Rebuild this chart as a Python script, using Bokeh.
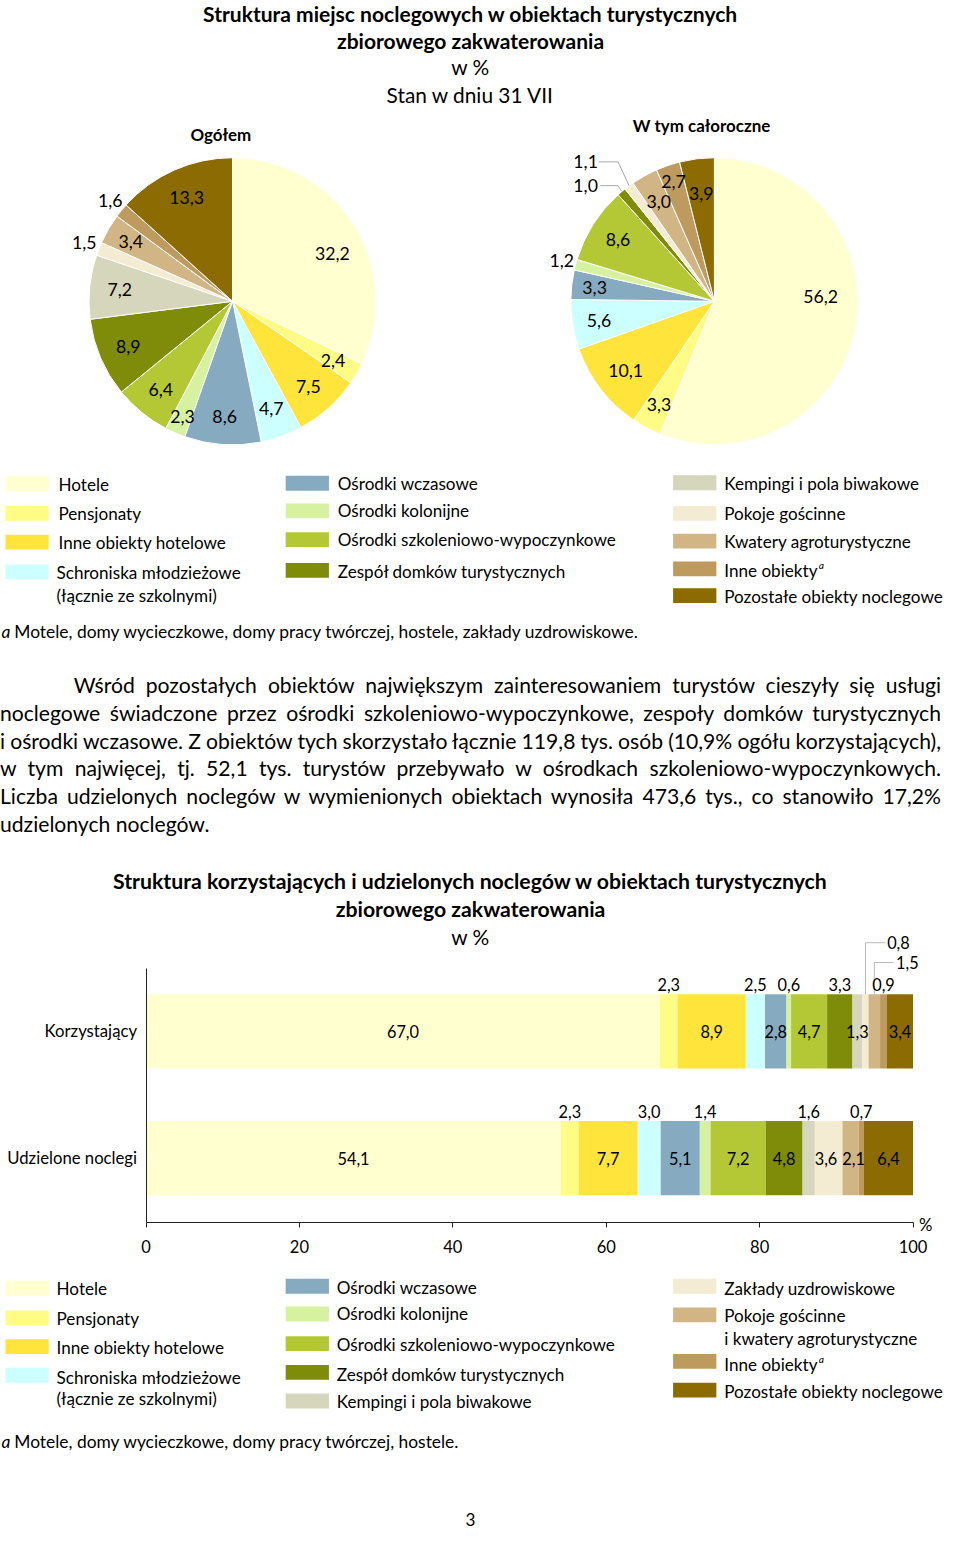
import numpy as np
from bokeh.plotting import figure
from bokeh.models import Range1d, ColumnDataSource, LinearAxis, FixedTicker, Div
from bokeh.layouts import column, row
from bokeh.embed import file_html
from bokeh.resources import INLINE
from bokeh.core.properties import value

# ---------------- data ----------------
pie_categories = ["Hotele", "Pensjonaty", "Inne obiekty hotelowe",
                  "Schroniska młodzieżowe (łącznie ze szkolnymi)", "Ośrodki wczasowe",
                  "Ośrodki kolonijne", "Ośrodki szkoleniowo-wypoczynkowe",
                  "Zespół domków turystycznych", "Kempingi i pola biwakowe",
                  "Pokoje gościnne", "Kwatery agroturystyczne", "Inne obiekty",
                  "Pozostałe obiekty noclegowe"]
pie_colors = ["#FFFFD0", "#FFFC86", "#FFE43C", "#CCFFFF", "#86ABC1", "#D6F2A0",
              "#B3C834", "#7F8C0A", "#D6D6BC", "#F3ECD2", "#D1B585", "#BF9A5E", "#8C6B02"]
pie_total = [32.2, 2.4, 7.5, 4.7, 8.6, 2.3, 6.4, 8.9, 7.2, 1.5, 3.4, 1.6, 13.3]
pie_year_round = [56.2, 3.3, 10.1, 5.6, 3.3, 1.2, 8.6, 1.0, 0.0, 1.1, 3.0, 2.7, 3.9]

bar_categories = ["Hotele", "Pensjonaty", "Inne obiekty hotelowe",
                  "Schroniska młodzieżowe (łącznie ze szkolnymi)", "Ośrodki wczasowe",
                  "Ośrodki kolonijne", "Ośrodki szkoleniowo-wypoczynkowe",
                  "Zespół domków turystycznych", "Kempingi i pola biwakowe",
                  "Zakłady uzdrowiskowe", "Pokoje gościnne i kwatery agroturystyczne",
                  "Inne obiekty", "Pozostałe obiekty noclegowe"]
bar_colors = ["#FFFFD0", "#FFFC86", "#FFE43C", "#CCFFFF", "#86ABC1", "#D6F2A0",
              "#B3C834", "#7F8C0A", "#D6D6BC", "#F3ECD2", "#D1B585", "#BF9A5E", "#8C6B02"]
bar_rows = ["Korzystający", "Udzielone noclegi"]
bar_users = [67.0, 2.3, 8.9, 2.5, 2.8, 0.6, 4.7, 3.3, 1.3, 0.8, 1.5, 0.9, 3.4]
bar_nights = [54.1, 2.3, 7.7, 3.0, 5.1, 1.4, 7.2, 4.8, 1.6, 3.6, 2.1, 0.7, 6.4]
x_ticks = [0, 20, 40, 60, 80, 100]

para_lines = [
    "Wśród pozostałych obiektów największym zainteresowaniem turystów cieszyły się usługi",
    "noclegowe świadczone przez ośrodki szkoleniowo-wypoczynkowe, zespoły domków turystycznych",
    "i ośrodki wczasowe. Z obiektów tych skorzystało łącznie 119,8 tys. osób (10,9% ogółu korzystających),",
    "w tym najwięcej, tj. 52,1 tys. turystów przebywało w ośrodkach szkoleniowo-wypoczynkowych.",
    "Liczba udzielonych noclegów w wymienionych obiektach wynosiła 473,6 tys., co stanowiło 17,2%",
    "udzielonych noclegów.",
]

# ---------------- helpers ----------------
SX = 944 / 960
SY = 1530 / 1547
FONT = "Lato"
bounds_y = [0, 110, 460, 660, 875, 1280, 1547]
heights = [int(round(b * SY)) - int(round(a * SY)) for a, b in zip(bounds_y[:-1], bounds_y[1:])]


def fs(v):
    return f"{v * SX:.2f}px"


def sw(v):
    return int(round(v * SX))


def fmt(v):
    return f"{v:.1f}".replace(".", ",")


def hide(p):
    p.grid.visible = False
    p.outline_line_color = None
    p.background_fill_color = "white"
    p.border_fill_color = "white"


def px_fig(w, k):
    y0, y1 = bounds_y[k], bounds_y[k + 1]
    p = figure(width=sw(w), height=heights[k], x_range=Range1d(0, w), y_range=Range1d(y1, y0),
               output_backend="svg", toolbar_location=None, min_border=0,
               x_axis_location=None, y_axis_location=None)
    hide(p)
    return p


def txt(p, x, y, s, size=17.4, bold=False, italic=False, align="left", color="black"):
    style = "bold" if bold else ("italic" if italic else "normal")
    p.text(x=[x], y=[y], text=[s], text_font=value(FONT), text_font_size=fs(size),
           text_font_style=style, text_align=align, text_baseline="middle", text_color=color)


# ---------------- title ----------------
f_title = px_fig(960, 0)
txt(f_title, 478, 13, "Struktura miejsc noclegowych w obiektach turystycznych", 21.4, bold=True, align="center")
txt(f_title, 478, 40, "zbiorowego zakwaterowania", 21.4, bold=True, align="center")
txt(f_title, 478, 67, "w %", 21.2, align="center")
txt(f_title, 478, 95, "Stan w dniu 31 VII", 21.2, align="center")


# ---------------- pies ----------------
def pie_figure(vals, x_off, cx_abs, title, title_xy, label_r, label_ang, leaders):
    R = 146.0
    cx = cx_abs - x_off
    p = figure(width=sw(480), height=heights[1],
               x_range=Range1d(-cx / R, (480 - cx) / R),
               y_range=Range1d(-(460 - 304) / R, (304 - 110) / R),
               output_backend="svg", toolbar_location=None, min_border=0,
               x_axis_location=None, y_axis_location=None)
    hide(p)
    v = np.array(vals, dtype=float)
    frac = v / v.sum()
    c1 = np.cumsum(frac)
    c0 = c1 - frac
    start = np.pi / 2 - 2 * np.pi * c0
    end = np.pi / 2 - 2 * np.pi * c1
    mid = (start + end) / 2
    keep = [i for i in range(len(v)) if v[i] > 0]
    src = ColumnDataSource(dict(start=[start[i] for i in keep], end=[end[i] for i in keep],
                                color=[pie_colors[i] for i in keep]))
    p.wedge(x=0, y=0, radius=1, start_angle="start", end_angle="end", direction="clock",
            fill_color="color", line_color="white", line_width=1, source=src)
    lx, ly, lt = [], [], []
    for i in keep:
        if i in leaders:
            tx, ty, sx, ex = leaders[i]
            p.line(x=[sx, ex, np.cos(mid[i])], y=[ty, ty, np.sin(mid[i])], line_color="#A8A8A8", line_width=1)
            lx.append(tx); ly.append(ty); lt.append(fmt(v[i]))
            continue
        a = np.radians(label_ang[i]) if label_ang[i] is not None else mid[i]
        lx.append(label_r[i] * np.cos(a)); ly.append(label_r[i] * np.sin(a)); lt.append(fmt(v[i]))
    p.text(x=lx, y=ly, text=lt, text_font=value(FONT), text_font_size=fs(18),
           text_align="center", text_baseline="middle", text_color="black")
    p.text(x=[(title_xy[0] - cx_abs) / R], y=[(304 - title_xy[1]) / R], text=[title],
           text_font=value(FONT), text_font_size=fs(17.2), text_font_style="bold",
           text_align="center", text_baseline="middle", text_color="black")
    return p


rL = [0.77, 0.81, 0.79, 0.79, 0.80, 0.87, 0.79, 0.79, 0.79, 1.11, 0.82, 1.10, 0.79]
aL = [25.4, None, None, None, None, None, None, None, None, None, None, None, None]
pie_left = pie_figure(pie_total, 0, 236, "Ogółem", (224, 135), rL, aL, {})

rR = [0.74, 0.815, 0.78, 0.815, 0.84, 1.10, 0.795, None, None, None, 0.795, 0.877, 0.75]
aR = [2.6, None, None, None, None, None, None, None, None, None, None, None, None]
leadR = {7: (-0.897, 0.801, -0.795, -0.671), 9: (-0.897, 0.966, -0.808, -0.671)}
pie_right = pie_figure(pie_year_round, 480, 726, "W tym całoroczne", (713, 126), rR, aR, leadR)


# ---------------- legends ----------------
def legend(p, items, colors, sup_x):
    for (ci, bx_, by_, lines, tx, sup) in items:
        p.quad(left=[bx_], right=[bx_ + 44], top=[by_ - 7.5], bottom=[by_ + 7.5],
               fill_color=colors[ci], line_color=None)
        for (s, ty) in lines:
            txt(p, tx, ty, s, 17.4)
        if sup:
            txt(p, sup_x, lines[0][1] - 5, "a", 10.5, italic=True)


f_leg1 = px_fig(960, 2)
leg1_items = [
    (0, 5, 488.5, [("Hotele", 489)], 59, False),
    (1, 5, 518.5, [("Pensjonaty", 519)], 59, False),
    (2, 5, 547.5, [("Inne obiekty hotelowe", 548)], 59, False),
    (3, 5, 577.5, [("Schroniska młodzieżowe", 578), ("(łącznie ze szkolnymi)", 601)], 57, False),
    (4, 290, 488, [("Ośrodki wczasowe", 488)], 343, False),
    (5, 290, 516, [("Ośrodki kolonijne", 516)], 343, False),
    (6, 290, 545, [("Ośrodki szkoleniowo-wypoczynkowe", 545)], 343, False),
    (7, 290, 576, [("Zespół domków turystycznych", 577)], 343, False),
    (8, 684, 487.5, [("Kempingi i pola biwakowe", 488)], 736, False),
    (9, 684, 518.5, [("Pokoje gościnne", 519)], 736, False),
    (10, 684, 546.5, [("Kwatery agroturystyczne", 547)], 736, False),
    (11, 684, 574.5, [("Inne obiekty", 576)], 736, True),
    (12, 684, 601.5, [("Pozostałe obiekty noclegowe", 602)], 736, False),
]
legend(f_leg1, leg1_items, pie_colors, 832)
txt(f_leg1, 1, 638, "a", 17.7, italic=True)
txt(f_leg1, 14, 638, "Motele, domy wycieczkowe, domy pracy twórczej, hostele, zakłady uzdrowiskowe.", 17.7)

# ---------------- paragraph ----------------
parts = []
for i, line in enumerate(para_lines):
    last = i == len(para_lines) - 1
    st = "text-align:justify;text-align-last:%s;" % ("left" if last else "justify")
    if not last:
        st += "word-spacing:-1.5px;"
    if i == 0:
        st += "text-indent:%.1fpx;" % (75 * SX)
    parts.append('<div style="%s">%s</div>' % (st, line))
para_html = ('<div style="font-family:Lato;font-size:%.2fpx;line-height:%.2fpx;color:#000;'
             'padding-top:%.1fpx;width:%.1fpx;">%s</div>'
             % (21.5 * SX, 28.2 * SY, 19 * SY, 957 * SX, "".join(parts)))
para = Div(text=para_html, width=sw(960), height=heights[3], margin=0)


# ---------------- bar chart ----------------
def bx(px):
    return (px - 148) / 7.8


def by(py):
    return (1170.5 - py) / 128.0


f_bar = figure(width=sw(960), height=heights[4], x_range=Range1d(bx(0), bx(960)),
               y_range=Range1d(by(1280), by(875)), output_backend="svg",
               toolbar_location=None, min_border=0, x_axis_location=None, y_axis_location=None)
hide(f_bar)

xaxis = LinearAxis(fixed_location=by(1236), bounds=(0, 100), ticker=FixedTicker(ticks=x_ticks))
xaxis.major_tick_out = 5
xaxis.major_tick_in = 0
xaxis.minor_tick_line_color = None
xaxis.axis_line_color = "#222222"
xaxis.major_tick_line_color = "#222222"
xaxis.major_label_text_font = FONT
xaxis.major_label_text_font_size = fs(16.8)
xaxis.major_label_text_color = "black"
xaxis.major_label_standoff = 12
f_bar.add_layout(xaxis, "below")

yaxis = LinearAxis(fixed_location=0, bounds=(by(1236), by(979)), ticker=FixedTicker(ticks=[0, 1]),
                   major_label_overrides={0: bar_rows[1], 1: bar_rows[0]})
yaxis.major_tick_line_color = None
yaxis.minor_tick_line_color = None
yaxis.axis_line_color = "#222222"
yaxis.major_label_text_font = FONT
yaxis.major_label_text_font_size = fs(17.0)
yaxis.major_label_text_color = "black"
yaxis.major_label_standoff = 3
f_bar.add_layout(yaxis, "left")

BAR_H = 75 / 128.0
users_pos = ["in", "up", "in", "up", "in", "up", "in", "up", "in", "lead1", "lead2", "up", "in"]
nights_pos = ["in", "up", "in", "up", "in", "up", "in", "in", "up", "in", "in", "up", "in"]
nights_nudge = {9: -0.35, 10: 0.4}
leader_spec = {"lead1": (by(953), 2.6, 4.3), "lead2": (by(973), 2.5, 4.3)}

for yi, vals, pos, nudge in [(1, bar_users, users_pos, {}), (0, bar_nights, nights_pos, nights_nudge)]:
    v = np.array(vals, dtype=float)
    right = np.cumsum(v)
    left = right - v
    src = ColumnDataSource(dict(y=[yi] * len(v), left=left, right=right, color=bar_colors))
    f_bar.hbar(y="y", left="left", right="right", height=BAR_H, fill_color="color",
               line_color=None, source=src)
    tx, ty, tt = [], [], []
    for i in range(len(v)):
        c = (left[i] + right[i]) / 2
        if pos[i] == "in":
            tx.append(c + nudge.get(i, 0.0)); ty.append(yi)
        elif pos[i] == "up":
            tx.append(c); ty.append(yi + BAR_H / 2 + 10 / 128.0)
        else:
            ly, ex, lxo = leader_spec[pos[i]]
            f_bar.line(x=[c, c, c + ex], y=[yi + BAR_H / 2, ly, ly], line_color="#B8B8B8", line_width=1)
            tx.append(c + lxo); ty.append(ly)
        tt.append(fmt(v[i]))
    f_bar.text(x=tx, y=ty, text=tt, text_font=value(FONT), text_font_size=fs(16.6),
               text_align="center", text_baseline="middle", text_color="black")

for s, py, bold in [("Struktura korzystających i udzielonych noclegów w obiektach turystycznych", 891, True),
                    ("zbiorowego zakwaterowania", 919, True), ("w %", 947, False)]:
    f_bar.text(x=[bx(478)], y=[by(py)], text=[s], text_font=value(FONT),
               text_font_size=fs(21.6 if bold else 21.2),
               text_font_style="bold" if bold else "normal", text_align="center",
               text_baseline="middle", text_color="black")
f_bar.text(x=[bx(941)], y=[by(1238)], text=["%"], text_font=value(FONT), text_font_size=fs(17),
           text_align="center", text_baseline="middle", text_color="black")

# ---------------- legend 2 ----------------
f_leg2 = px_fig(960, 5)
leg2_items = [
    (0, 5, 1302, [("Hotele", 1302)], 57, False),
    (1, 5, 1332, [("Pensjonaty", 1333)], 57, False),
    (2, 5, 1361, [("Inne obiekty hotelowe", 1362)], 57, False),
    (3, 5, 1390, [("Schroniska młodzieżowe", 1392), ("(łącznie ze szkolnymi)", 1414)], 57, False),
    (4, 290, 1300, [("Ośrodki wczasowe", 1301)], 342, False),
    (5, 290, 1328, [("Ośrodki kolonijne", 1328)], 342, False),
    (6, 290, 1358, [("Ośrodki szkoleniowo-wypoczynkowe", 1359)], 342, False),
    (7, 290, 1387, [("Zespół domków turystycznych", 1389)], 342, False),
    (8, 290, 1416, [("Kempingi i pola biwakowe", 1417)], 342, False),
    (9, 684, 1300, [("Zakłady uzdrowiskowe", 1302)], 736, False),
    (10, 684, 1329, [("Pokoje gościnne", 1330), ("i kwatery agroturystyczne", 1353)], 736, False),
    (11, 684, 1376, [("Inne obiekty", 1379)], 736, True),
    (12, 684, 1405, [("Pozostałe obiekty noclegowe", 1406)], 736, False),
]
legend(f_leg2, leg2_items, bar_colors, 832)
txt(f_leg2, 1, 1457, "a", 17.7, italic=True)
txt(f_leg2, 14, 1457, "Motele, domy wycieczkowe, domy pracy twórczej, hostele.", 17.7)
txt(f_leg2, 478, 1536, "3", 17.4, align="center")

layout = column(f_title, row(pie_left, pie_right, spacing=0), f_leg1, para, f_bar, f_leg2, spacing=0)
open("out.html", "w").write(file_html(layout, INLINE))
